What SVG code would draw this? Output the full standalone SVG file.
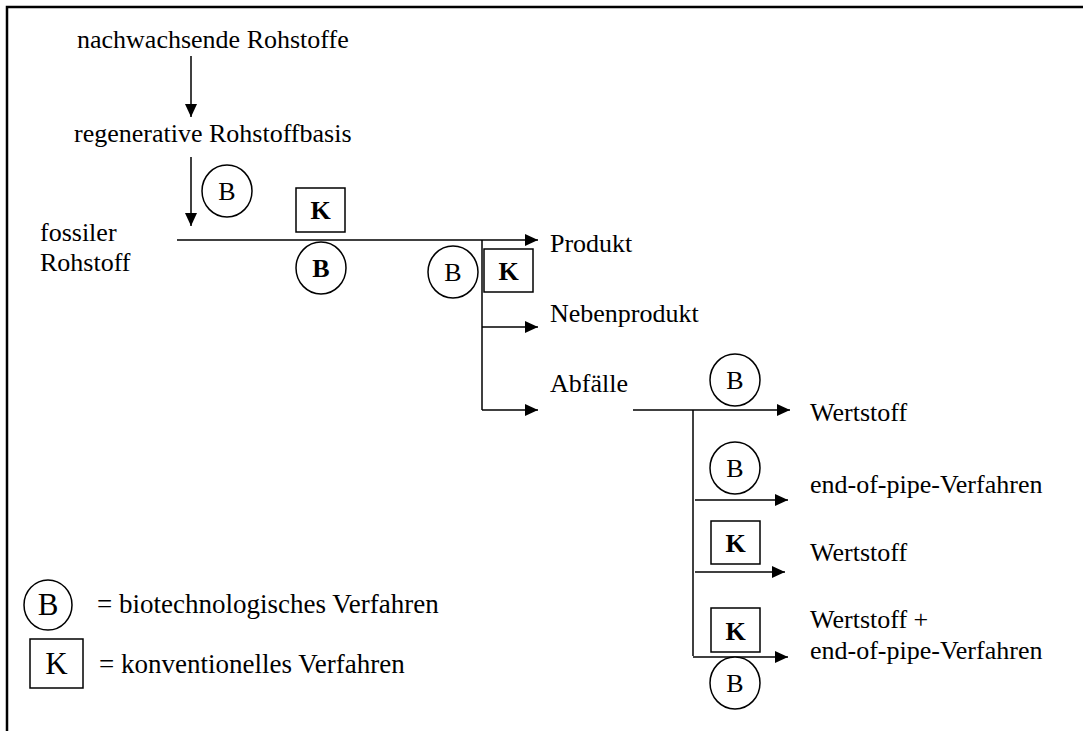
<svg xmlns="http://www.w3.org/2000/svg" width="1083" height="731" viewBox="0 0 1083 731">
<defs>
<marker id="ah" markerUnits="userSpaceOnUse" markerWidth="13" markerHeight="12" refX="13" refY="6" orient="auto">
<path d="M0,0 L13,6 L0,12 Z" fill="#000"/>
</marker>
</defs>
<style>
text{font-family:"Liberation Serif","Times New Roman",serif;font-size:26px;fill:#000}
.c{text-anchor:middle}
.b{font-weight:bold}
.lg{font-size:27px}
.ln{stroke:#000;stroke-width:1.5;fill:none}
.ar{stroke:#000;stroke-width:1.5;fill:none;marker-end:url(#ah)}
.sh{stroke:#000;stroke-width:1.5;fill:#fff}
.fr{stroke:#000;stroke-width:2.5;fill:none}
</style>
<rect width="1083" height="731" fill="#fff"/>
<path class="fr" d="M7,731 V7 H1083"/>

<g id="connectors">
<path class="ar" d="M191,56 V117"/>
<path class="ar" d="M191,157 V226"/>
<path class="ar" d="M177,240 H538"/>
<path class="ln" d="M482,240 V410"/>
<path class="ar" d="M482,327 H538"/>
<path class="ar" d="M482,410 H538"/>
<path class="ar" d="M633,410 H790"/>
<path class="ln" d="M693,410 V656"/>
<path class="ar" d="M695,500 H788"/>
<path class="ar" d="M695,572 H785"/>
<path class="ar" d="M693,657 H788"/>
</g>

<g id="n-nachwachsend"><text x="77" y="48">nachwachsende Rohstoffe</text></g>
<g id="n-regenerativ"><text x="74" y="142">regenerative Rohstoffbasis</text></g>
<g id="n-fossil"><text x="40" y="241">fossiler</text><text x="40" y="271">Rohstoff</text></g>
<g id="n-produkt"><text x="550" y="252">Produkt</text></g>
<g id="n-nebenprodukt"><text x="550" y="322">Nebenprodukt</text></g>
<g id="n-abfaelle"><text x="550" y="392">Abfälle</text></g>
<g id="n-wertstoff1"><text x="810" y="421">Wertstoff</text></g>
<g id="n-eop"><text x="810" y="493">end-of-pipe-Verfahren</text></g>
<g id="n-wertstoff2"><text x="810" y="561">Wertstoff</text></g>
<g id="n-wertstoff3"><text x="810" y="628">Wertstoff +</text><text x="810" y="659">end-of-pipe-Verfahren</text></g>

<g id="b1"><ellipse class="sh" cx="227" cy="191" rx="25" ry="26"/><text class="c" x="227" y="200">B</text></g>
<g id="k1"><rect class="sh" x="296" y="188" width="49" height="44"/><text class="c b" x="320.5" y="219">K</text></g>
<g id="b2"><ellipse class="sh" cx="321" cy="268" rx="25" ry="26"/><text class="c b" x="321" y="277">B</text></g>
<g id="b3"><ellipse class="sh" cx="453" cy="272" rx="25" ry="26"/><text class="c" x="453" y="281">B</text></g>
<g id="k2"><rect class="sh" x="484" y="249" width="49" height="43"/><text class="c b" x="508.5" y="280">K</text></g>
<g id="b4"><ellipse class="sh" cx="735" cy="380" rx="25" ry="26"/><text class="c" x="735" y="389">B</text></g>
<g id="b5"><ellipse class="sh" cx="735" cy="468" rx="25" ry="26"/><text class="c" x="735" y="477">B</text></g>
<g id="k3"><rect class="sh" x="711" y="521" width="49" height="43"/><text class="c b" x="735.5" y="552">K</text></g>
<g id="k4"><rect class="sh" x="711" y="608" width="49" height="44"/><text class="c b" x="735.5" y="640">K</text></g>
<g id="b6"><ellipse class="sh" cx="735" cy="683" rx="25" ry="26"/><text class="c" x="735" y="692">B</text></g>

<g id="legend-b"><ellipse class="sh" cx="48" cy="605" rx="24" ry="25"/><text class="c" x="48" y="615" style="font-size:31px">B</text><text class="lg" x="97" y="613">= biotechnologisches Verfahren</text></g>
<g id="legend-k"><rect class="sh" x="30" y="639" width="53" height="49"/><text class="c" x="56.5" y="674" style="font-size:31px">K</text><text class="lg" x="99" y="673">= konventionelles Verfahren</text></g>
</svg>
